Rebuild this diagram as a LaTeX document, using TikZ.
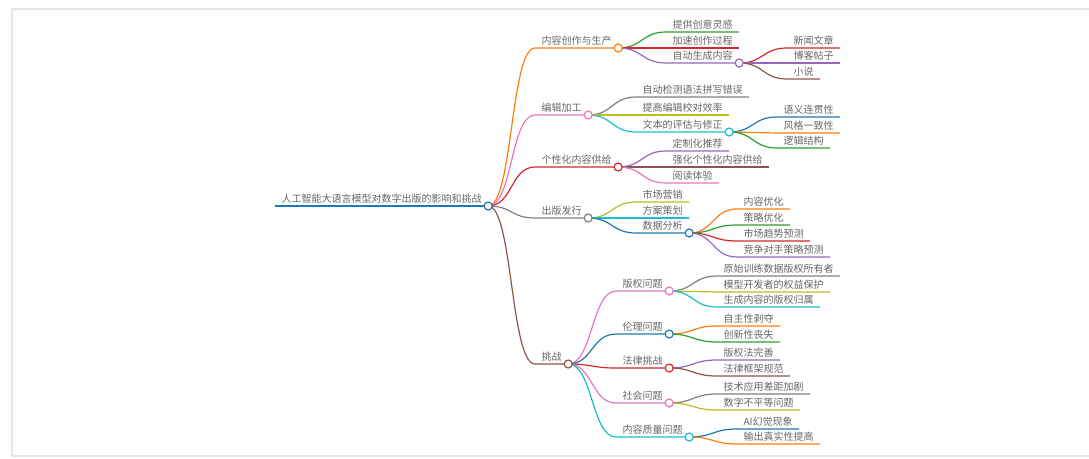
\documentclass[tikz,border=0pt]{standalone}
\usepackage{fontspec}
\setmainfont{Noto Sans CJK SC}
\usepackage{tikz}
\usetikzlibrary{positioning}

\definecolor{cblue}{HTML}{1F77B4}
\definecolor{corange}{HTML}{FF7F0E}
\definecolor{cgreen}{HTML}{2CA02C}
\definecolor{cred}{HTML}{D62728}
\definecolor{cpurple}{HTML}{9467BD}
\definecolor{cbrown}{HTML}{8C564B}
\definecolor{cpink}{HTML}{E377C2}
\definecolor{cgray}{HTML}{7F7F7F}
\definecolor{colive}{HTML}{BCBD22}
\definecolor{ccyan}{HTML}{17BECF}
\definecolor{ctext}{HTML}{666666}
\definecolor{cframe}{HTML}{E6E6E6}

\tikzset{
  topic/.style={anchor=south west, inner xsep=6pt, inner ysep=2.5pt,
    text depth=0pt, font=\fontsize{10}{12}\selectfont, text=ctext},
  link/.style={to path={.. controls ([xshift=24.5pt]\tikztostart)
    and ([xshift=-24.5pt]\tikztotarget) .. (\tikztotarget)}},
  dot/.style={circle, minimum size=8pt, inner sep=0pt, fill=white, line width=1.2pt}
}

\begin{document}
\begin{tikzpicture}[x=1pt, y=-1pt, line width=1.2pt]
    \useasboundingbox (0,0) rectangle (1089,458);
    \draw[cframe, line width=2pt] (1089,9) -- (12,9) -- (12,456) -- (1089,456);

    % root
    \node[topic] (r) at (275,206) {人工智能大语言模型对数字出版的影响和挑战};

    % first level
    \node[topic] (a) at (535,48)  {内容创作与生产};
    \node[topic] (b) at (535,115) {编辑加工};
    \node[topic] (c) at (535,167) {个性化内容供给};
    \node[topic] (d) at (535,218) {出版发行};
    \node[topic] (e) at (535,364) {挑战};

    % content creation
    \node[topic] (a1) at (666,32) {提供创意灵感};
    \node[topic] (a2) at (666,48) {加速创作过程};
    \node[topic] (a3) at (666,63) {自动生成内容};
    \node[topic] (a31) at (787,48) {新闻文章};
    \node[topic] (a32) at (787,63) {博客帖子};
    \node[topic] (a33) at (787,79) {小说};

    % editing
    \node[topic] (b1) at (636,97)  {自动检测语法拼写错误};
    \node[topic] (b2) at (636,115) {提高编辑校对效率};
    \node[topic] (b3) at (636,132) {文本的评估与修正};
    \node[topic] (b31) at (777,117) {语义连贯性};
    \node[topic] (b32) at (777,133) {风格一致性};
    \node[topic] (b33) at (777,148) {逻辑结构};

    % personalised supply
    \node[topic] (c1) at (666,151) {定制化推荐};
    \node[topic] (c2) at (666,167) {强化个性化内容供给};
    \node[topic] (c3) at (666,183) {阅读体验};

    % distribution
    \node[topic] (d1) at (636,202) {市场营销};
    \node[topic] (d2) at (636,218) {方案策划};
    \node[topic] (d3) at (636,233) {数据分析};
    \node[topic] (d31) at (737,209) {内容优化};
    \node[topic] (d32) at (737,225) {策略优化};
    \node[topic] (d33) at (737,241) {市场趋势预测};
    \node[topic] (d34) at (737,257) {竞争对手策略预测};

    % challenges
    \node[topic] (e1) at (616,291) {版权问题};
    \node[topic] (e2) at (616,334) {伦理问题};
    \node[topic] (e3) at (616,368) {法律挑战};
    \node[topic] (e4) at (616,403) {社会问题};
    \node[topic] (e5) at (616,437) {内容质量问题};
    \node[topic] (e11) at (717,276) {原始训练数据版权所有者};
    \node[topic] (e12) at (717,292) {模型开发者的权益保护};
    \node[topic] (e13) at (717,307) {生成内容的版权归属};
    \node[topic] (e21) at (717,326) {自主性剥夺};
    \node[topic] (e22) at (717,342) {创新性丧失};
    \node[topic] (e31) at (717,360) {版权法完善};
    \node[topic] (e32) at (717,376) {法律框架规范};
    \node[topic] (e41) at (717,394) {技术应用差距加剧};
    \node[topic] (e42) at (717,410) {数字不平等问题};
    \node[topic] (e51) at (737,429) {AI幻觉现象};
    \node[topic] (e52) at (737,444) {输出真实性提高};

    \draw[cblue, line width=1.6pt] (r.south west) -- (r.south east);

    % links and underlines
    \foreach \p/\n/\k in {r/a/corange, r/b/cpink, r/c/cred, r/d/cgray, r/e/cbrown,
        a/a1/cgreen, a/a2/cred, a/a3/cpurple,
        a3/a31/cred, a3/a32/cpurple, a3/a33/cbrown,
        b/b1/cgray, b/b2/colive, b/b3/ccyan,
        b3/b31/cblue, b3/b32/corange, b3/b33/cgreen,
        c/c1/cpurple, c/c2/cbrown, c/c3/cpink,
        d/d1/colive, d/d2/ccyan, d/d3/cblue,
        d3/d31/corange, d3/d32/cgreen, d3/d33/cred, d3/d34/cpurple,
        e/e1/cpink, e/e2/cblue, e/e3/cred, e/e4/cpink, e/e5/ccyan,
        e1/e11/cgray, e1/e12/colive, e1/e13/ccyan,
        e2/e21/corange, e2/e22/cgreen,
        e3/e31/cpurple, e3/e32/cbrown,
        e4/e41/cgray, e4/e42/colive,
        e5/e51/cblue, e5/e52/corange}
      \draw[\k] (\p.south east) to[link] (\n.south west) -- (\n.south east);

    % fold circles
    \foreach \n/\k in {r/cblue, a/corange, b/cpink, c/cred, d/cgray, e/cbrown,
        a3/cpurple, b3/ccyan, d3/cblue,
        e1/cpink, e2/cblue, e3/cred, e4/cpink, e5/ccyan}
      \node[dot, draw=\k] (\n-dot) at (\n.south east) {};

  \end{tikzpicture}
\end{document}
